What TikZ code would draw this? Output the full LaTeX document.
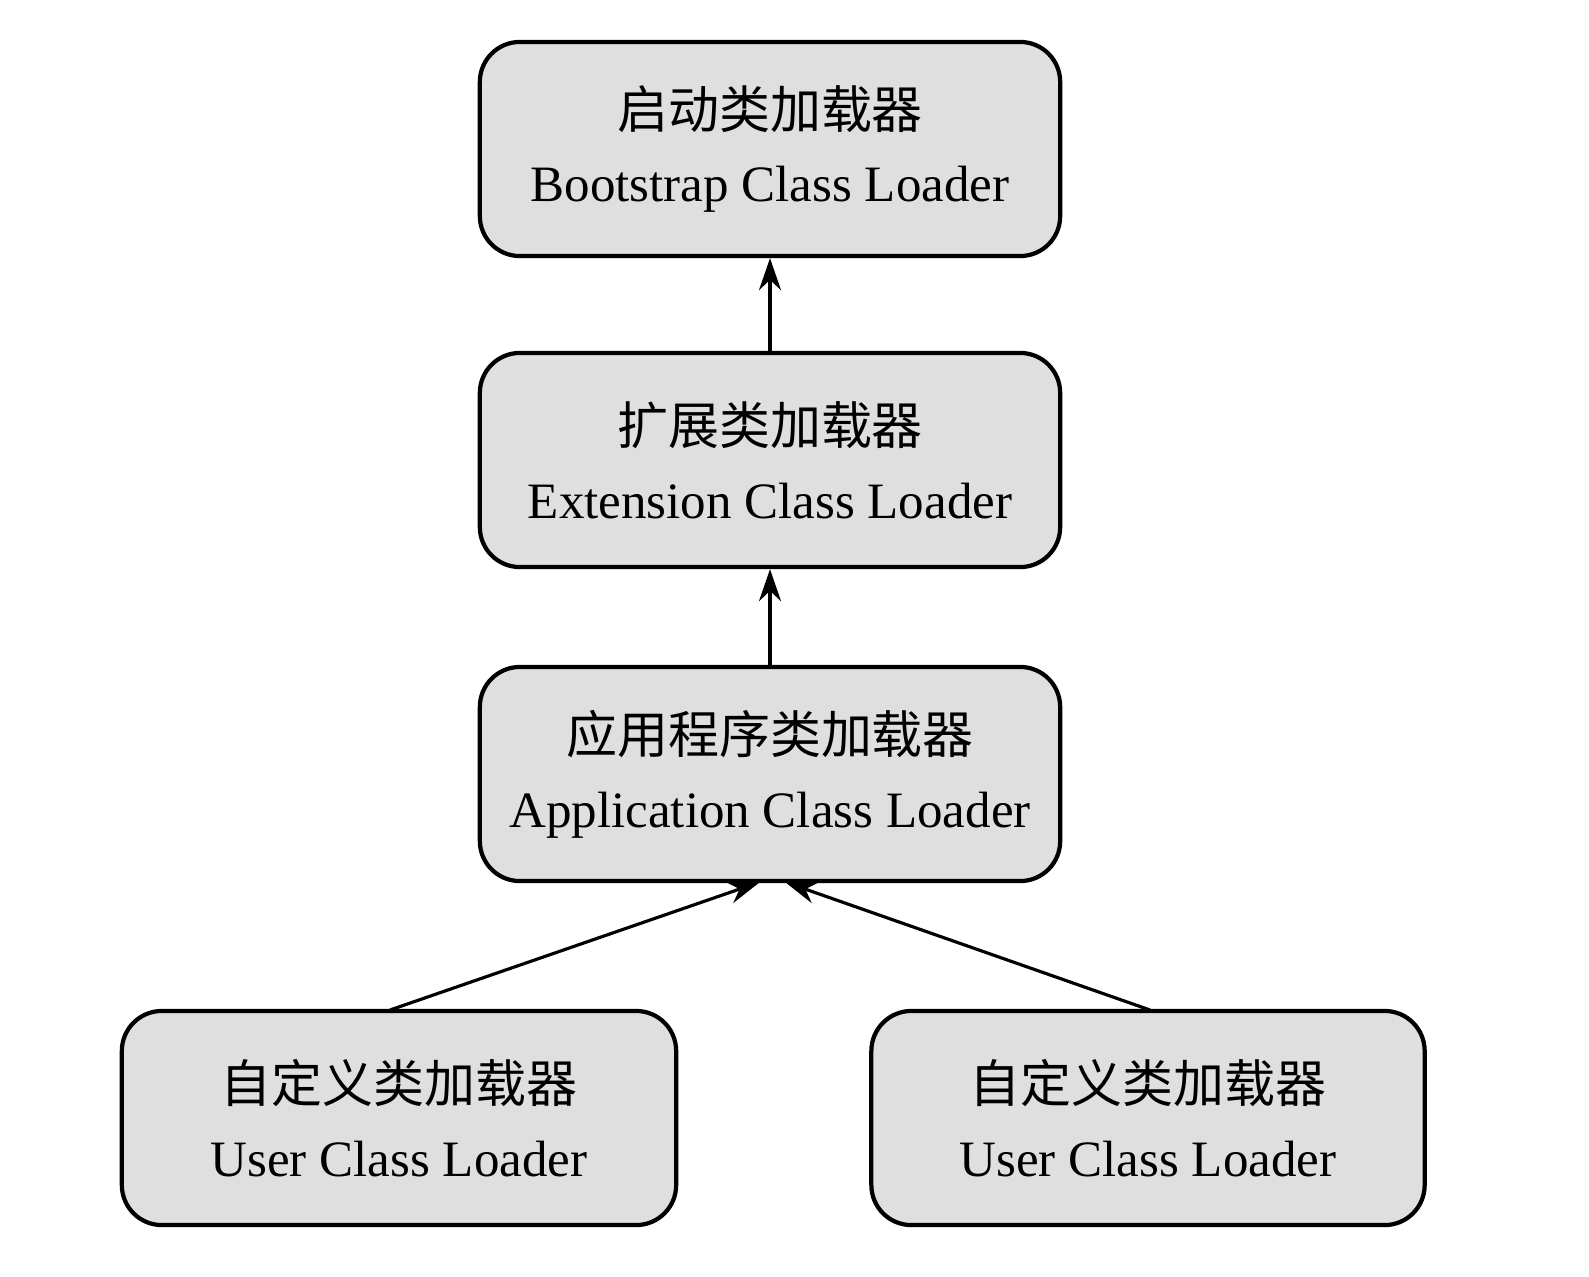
\documentclass[tikz,border=0pt]{standalone}
\usepackage{fontspec}
\setmainfont{Liberation Serif}
\newfontfamily\cjk{Noto Sans CJK SC}
\usetikzlibrary{arrows.meta}
\begin{document}
\begin{tikzpicture}[x=0.01cm,y=-0.01cm,
  box/.style={draw=black,line width=1.2pt,fill=gray!25,rounded corners=0.4cm,minimum height=2.14cm,align=center,inner sep=0pt,font=\fontsize{14.5}{21}\selectfont},
  arr/.style={-{Stealth[length=0.32cm,width=0.22cm]},line width=0.9pt}]
\useasboundingbox (0,0) rectangle (1589,1276);
\fill[white] (0,0) rectangle (1589,1276);
\node[box,minimum width=5.8cm] (boot) at (770,149) {{\cjk 启动类加载器}\\Bootstrap Class Loader};
\node[box,minimum width=5.8cm] (ext) at (770,460) {{\cjk 扩展类加载器}\\Extension Class Loader};
\node[box,minimum width=5.8cm] (app) at (770,774) {{\cjk 应用程序类加载器}\\Application Class Loader};
\node[box,minimum width=5.54cm] (u1) at (399,1118) {{\cjk 自定义类加载器}\\User Class Loader};
\node[box,minimum width=5.53cm] (u2) at (1148,1118) {{\cjk 自定义类加载器}\\User Class Loader};
\coordinate (a1) at (760,882);
\coordinate (a2) at (785,882);
\coordinate (s1) at (390,1010);
\coordinate (s2) at (1150,1010);
\draw[arr] (ext.north) -- (boot.south);
\draw[arr] (app.north) -- (ext.south);
\draw[arr] (s1) -- (a1);
\draw[arr] (s2) -- (a2);
\end{tikzpicture}
\end{document}
